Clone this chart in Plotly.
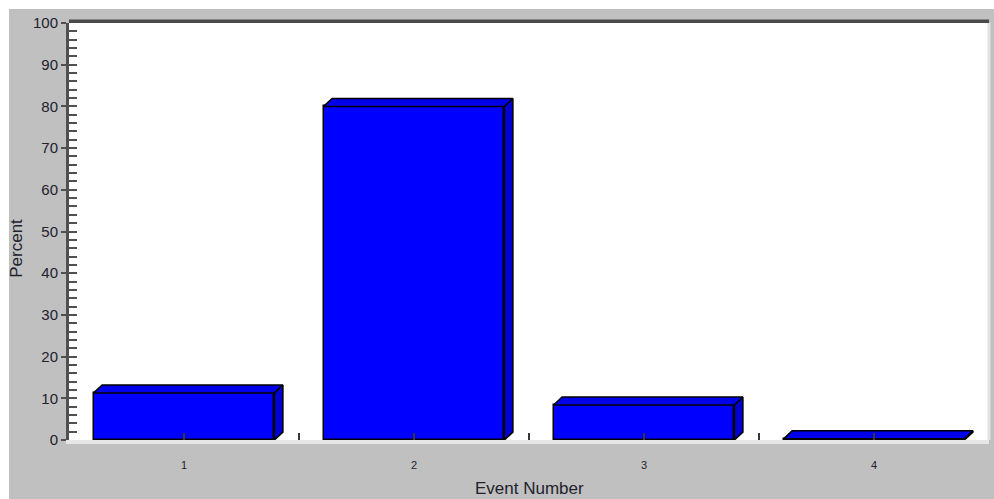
import plotly.graph_objects as go

# Percent of records per event number
events = [1, 2, 3, 4]
percent = [11.3, 80.0, 8.4, 0.3]

y_ticks = list(range(0, 101, 10))
x_tickvals = [1, 1.5, 2, 2.5, 3, 3.5, 4]
x_ticktext = ["1", "", "2", "", "3", "", "4"]

BAR_W = 0.786       # front face width in category units
DEPTH_X = 0.037     # 3D depth offset, x units
DEPTH_Y = 1.9       # 3D depth offset, y units

FRONT = "#0000ff"
TOP = "#0000ea"
SIDE = "#0000d2"
EDGE = "#000000"
PANEL = "#c0c0c0"
AXIS = "#505050"
TEXT = "#22222e"
FONT = "Liberation Sans, Arial, sans-serif"

fig = go.Figure()

# top and side faces of each bar, built from the bar values
for x, v in zip(events, percent):
    x0, x1 = x - BAR_W / 2, x + BAR_W / 2
    fig.add_trace(go.Scatter(
        x=[x1, x1, x1 + DEPTH_X, x1 + DEPTH_X, x1],
        y=[0, v, v + DEPTH_Y, DEPTH_Y, 0],
        mode="lines", fill="toself", fillcolor=SIDE,
        line=dict(color=EDGE, width=1.5), hoverinfo="skip", showlegend=False))
    fig.add_trace(go.Scatter(
        x=[x0, x0 + DEPTH_X, x1 + DEPTH_X, x1, x0],
        y=[v, v + DEPTH_Y, v + DEPTH_Y, v, v],
        mode="lines", fill="toself", fillcolor=TOP,
        line=dict(color=EDGE, width=1.5), hoverinfo="skip", showlegend=False))

# front faces
fig.add_trace(go.Bar(
    x=events, y=percent, width=BAR_W,
    marker=dict(color=FRONT, line=dict(color=EDGE, width=1.5)),
    showlegend=False))

fig.update_layout(
    width=994, height=499,
    margin=dict(l=69, r=5, t=23, b=59),
    paper_bgcolor=PANEL,
    plot_bgcolor="#ffffff",
    font=dict(family=FONT, color=TEXT),
    bargap=0,
    xaxis=dict(
        range=[0.5, 4.5], tickvals=x_tickvals, ticktext=x_ticktext,
        ticks="inside", ticklen=7, tickwidth=1.5, tickcolor="#383838",
        showgrid=False, zeroline=False,
        showline=True, linecolor="#e6e6e6", linewidth=4,
        tickfont=dict(size=11, color=TEXT), ticklabelstandoff=12,
    ),
    yaxis=dict(
        range=[0, 100], tickvals=y_ticks,
        ticks="outside", ticklen=5, tickwidth=2, tickcolor=AXIS,
        showgrid=False, zeroline=False,
        showline=True, linecolor=AXIS, linewidth=3,
        tickfont=dict(size=15, color=TEXT),
    ),
    yaxis2=dict(
        range=[0, 100], overlaying="y", side="left", matches="y",
        tickmode="linear", tick0=0, dtick=2,
        ticks="inside", ticklen=8, tickwidth=2, tickcolor=AXIS,
        showticklabels=False, showgrid=False, zeroline=False, showline=False,
    ),
    annotations=[
        dict(text="Event Number", xref="paper", yref="paper",
             x=0.50, y=-0.117, xanchor="center", yanchor="middle",
             showarrow=False, font=dict(size=17, color=TEXT)),
        dict(text="Percent", xref="paper", yref="paper",
             x=-0.057, y=0.46, xanchor="center", yanchor="middle",
             textangle=-90, showarrow=False, font=dict(size=17, color=TEXT)),
    ],
    shapes=[
        # white page edges at top and left
        dict(type="rect", xref="paper", yref="paper",
             x0=-0.08, x1=1.01, y0=1 + 14 / 417, y1=1.06,
             fillcolor="#ffffff", line=dict(width=0), layer="below"),
        dict(type="rect", xref="paper", yref="paper",
             x0=-0.08, x1=-60 / 920, y0=-0.15, y1=1.06,
             fillcolor="#ffffff", line=dict(width=0), layer="below"),
        # frame: dark top edge and light right wall edge
        dict(type="line", xref="paper", yref="paper",
             x0=0, x1=1, y0=1.004, y1=1.004,
             line=dict(color="#4a4a4a", width=3.5)),
        dict(type="line", xref="paper", yref="paper",
             x0=1, x1=1, y0=0, y1=1,
             line=dict(color="#e2e2e2", width=3)),
    ],
)

# invisible trace so the secondary tick axis is drawn
fig.add_trace(go.Scatter(x=[None], y=[None], yaxis="y2", showlegend=False,
                         hoverinfo="skip"))

fig.write_html("out.html")
